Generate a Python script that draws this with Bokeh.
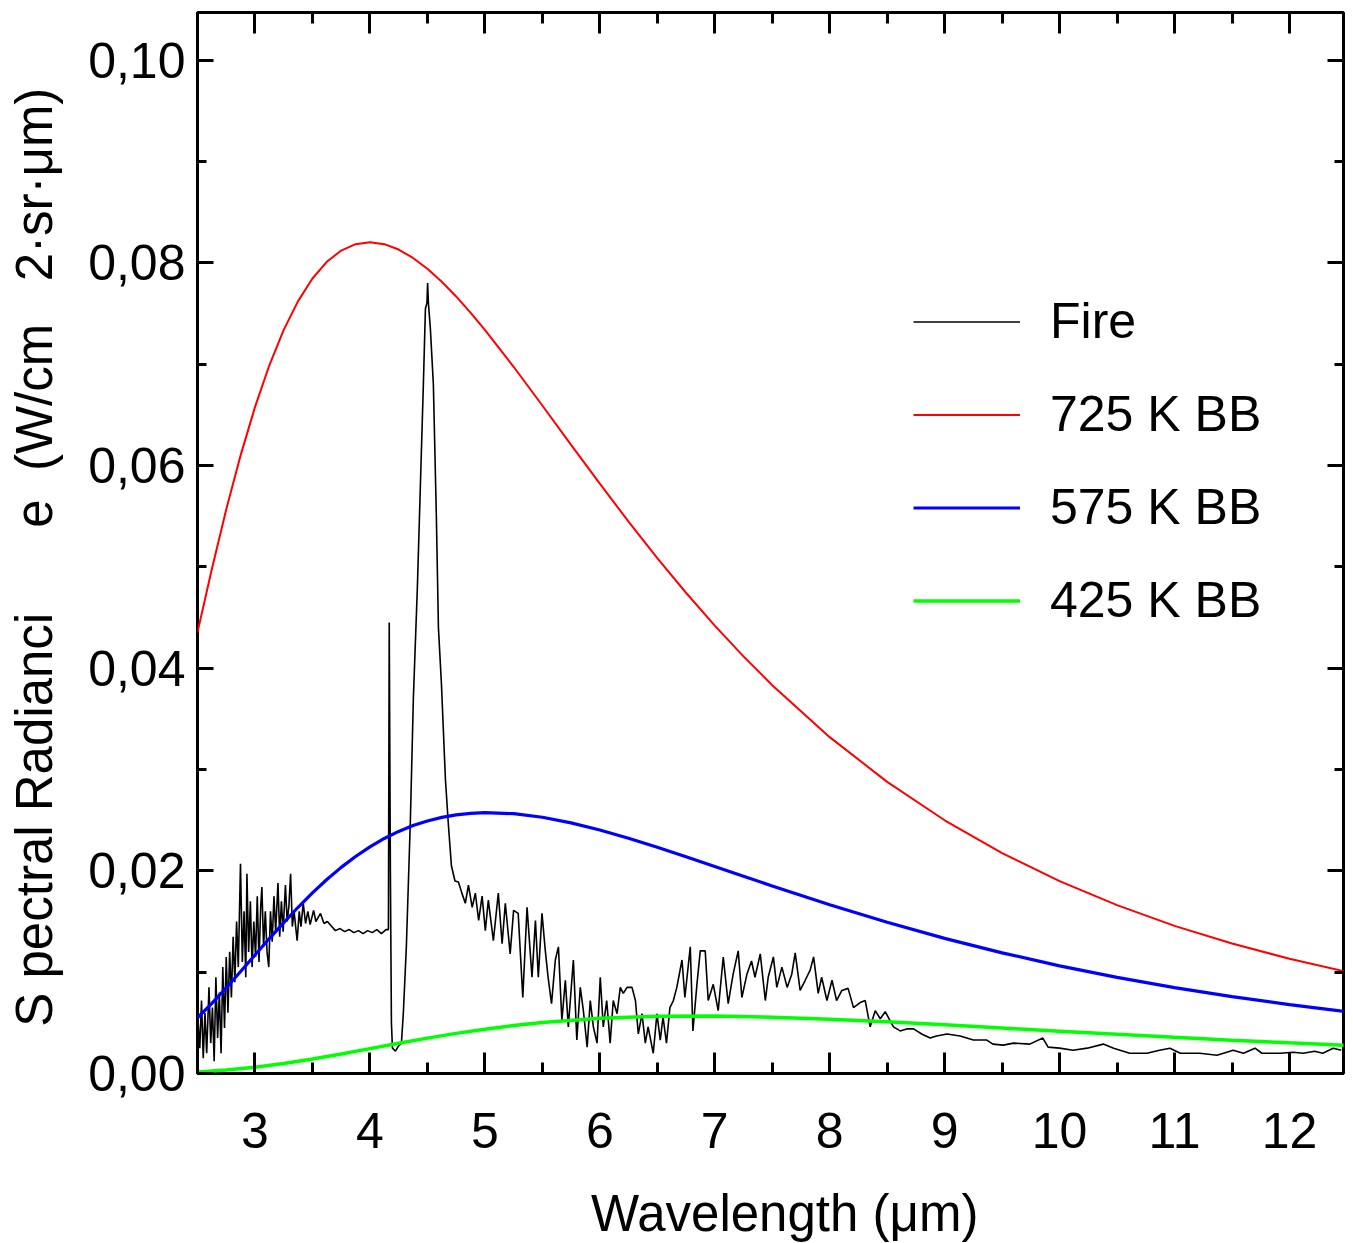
from bokeh.plotting import figure
from bokeh.models import (Range1d, LinearAxis, FixedTicker, CustomJSTickFormatter,
                          Legend, LegendItem)
from bokeh.embed import file_html
from bokeh.resources import INLINE

# ---- data ----
bb_wavelength_fine = [2.5, 2.625, 2.75, 2.875, 3.0, 3.125, 3.25, 3.375, 3.5, 3.625, 3.75, 3.875,
                      4.0, 4.125, 4.25, 4.375, 4.5, 4.625, 4.75, 4.875, 5.0, 5.25, 5.5, 5.75,
                      6.0, 6.25, 6.5, 6.75, 7.0, 7.25, 7.5, 8.0, 8.5, 9.0, 9.5, 10.0, 10.5,
                      11.0, 11.5, 12.0, 12.5]
bb_725 = [0.04354, 0.04979, 0.05565, 0.06100, 0.06576, 0.06989, 0.07338, 0.07622, 0.07845,
          0.08010, 0.08121, 0.08184, 0.08203, 0.08184, 0.08131, 0.08048, 0.07941, 0.07813,
          0.07668, 0.07509, 0.07338, 0.06974, 0.06592, 0.06204, 0.05820, 0.05446, 0.05086,
          0.04744, 0.04420, 0.04116, 0.03832, 0.03319, 0.02878, 0.02499, 0.02175, 0.01898,
          0.01661, 0.01457, 0.01283, 0.01132, 0.01003]
bb_575 = [0.005488, 0.006925, 0.008465, 0.010068, 0.011695, 0.013315, 0.014892, 0.016403,
          0.017825, 0.019142, 0.020342, 0.021418, 0.022369, 0.023192, 0.023889, 0.024464,
          0.024923, 0.025272, 0.025519, 0.025673, 0.025738, 0.025640, 0.025286, 0.024732,
          0.024030, 0.023216, 0.022327, 0.021391, 0.020433, 0.019468, 0.018508, 0.016655,
          0.014923, 0.013337, 0.011906, 0.010625, 0.009486, 0.008475, 0.007582, 0.006793,
          0.006096]
bb_wavelength = [2.5, 2.75, 3.0, 3.25, 3.5, 3.75, 4.0, 4.25, 4.5, 4.75, 5.0, 5.25, 5.5,
                 6.0, 6.5, 7.0, 7.5, 8.0, 8.5, 9.0, 9.5, 10.0, 10.5, 11.0, 11.5, 12.0, 12.5]
bb_425 = [0.000160, 0.000341, 0.000616, 0.000983, 0.001428, 0.001928, 0.002455, 0.002983,
          0.003490, 0.003958, 0.004376, 0.004735, 0.005033, 0.005448, 0.005647, 0.005669,
          0.005560, 0.005358, 0.005097, 0.004800, 0.004489, 0.004175, 0.003867, 0.003571,
          0.003292, 0.003030, 0.002787]

fire_wavelength = [
    2.50, 2.52, 2.535, 2.55, 2.565, 2.58, 2.60, 2.615, 2.63, 2.645, 2.66, 2.675, 2.69, 2.705,
    2.72, 2.735, 2.75, 2.765, 2.78, 2.795, 2.81, 2.825, 2.84, 2.855, 2.874, 2.89, 2.905, 2.92,
    2.93, 2.945, 2.96, 2.975, 2.99, 3.005, 3.02, 3.035, 3.05, 3.06, 3.075, 3.09, 3.105, 3.12,
    3.135, 3.15, 3.165, 3.18, 3.20, 3.215, 3.23, 3.245, 3.265, 3.28, 3.295, 3.31, 3.325, 3.34,
    3.367, 3.385, 3.40, 3.42, 3.44, 3.46, 3.48, 3.51, 3.53, 3.57, 3.60, 3.63, 3.66, 3.70, 3.74,
    3.78, 3.82, 3.86, 3.90, 3.94, 3.98, 4.02, 4.06, 4.10, 4.14, 4.161, 4.168, 4.178, 4.187,
    4.196, 4.222, 4.248, 4.274, 4.291, 4.317, 4.352, 4.378, 4.413, 4.439, 4.465, 4.483, 4.496,
    4.502, 4.509, 4.526, 4.552, 4.578, 4.596, 4.622, 4.657, 4.683, 4.709, 4.74, 4.77, 4.80,
    4.83, 4.857, 4.89, 4.917, 4.946, 4.976, 5.004, 5.03, 5.074, 5.117, 5.15, 5.178, 5.22, 5.25,
    5.29, 5.33, 5.367, 5.41, 5.44, 5.465, 5.497, 5.526, 5.55, 5.58, 5.613, 5.64, 5.67, 5.70,
    5.726, 5.77, 5.80, 5.83, 5.857, 5.89, 5.917, 5.944, 5.976, 6.004, 6.03, 6.06, 6.09, 6.117,
    6.15, 6.178, 6.204, 6.237, 6.28, 6.31, 6.335, 6.367, 6.396, 6.42, 6.465, 6.497, 6.526,
    6.55, 6.58, 6.61, 6.64, 6.67, 6.715, 6.74, 6.787, 6.81, 6.845, 6.874, 6.917, 6.943, 6.987,
    7.03, 7.074, 7.117, 7.16, 7.204, 7.236, 7.28, 7.32, 7.35, 7.396, 7.44, 7.465, 7.51, 7.54,
    7.584, 7.63, 7.67, 7.70, 7.743, 7.787, 7.83, 7.86, 7.90, 7.93, 7.976, 8.02, 8.06, 8.106,
    8.16, 8.207, 8.265, 8.309, 8.352, 8.396, 8.44, 8.483, 8.526, 8.555, 8.613, 8.67, 8.73,
    8.80, 8.874, 8.93, 9.02, 9.135, 9.25, 9.367, 9.42, 9.51, 9.60, 9.74, 9.854, 9.90, 10.0,
    10.117, 10.24, 10.38, 10.47, 10.61, 10.76, 10.87, 10.96, 11.05, 11.22, 11.37, 11.51, 11.60,
    11.70, 11.76, 11.92, 12.03, 12.12, 12.22, 12.29, 12.38, 12.45]
fire_radiance = [
    0.0060, 0.0025, 0.0072, 0.0015, 0.0060, 0.0020, 0.0085, 0.0030, 0.0065, 0.0012, 0.0095,
    0.0035, 0.0080, 0.0020, 0.0105, 0.0045, 0.0115, 0.0060, 0.0120, 0.0075, 0.0135, 0.0090,
    0.0150, 0.0105, 0.0207, 0.0110, 0.0160, 0.0095, 0.0197, 0.0120, 0.0170, 0.0105, 0.0150,
    0.0115, 0.0175, 0.0110, 0.0165, 0.0184, 0.0125, 0.0160, 0.0120, 0.0105, 0.0160, 0.0130,
    0.0175, 0.0140, 0.0188, 0.0135, 0.0170, 0.0140, 0.0186, 0.0150, 0.0165, 0.0197, 0.0145,
    0.0160, 0.0131, 0.0160, 0.0145, 0.0168, 0.0148, 0.0160, 0.0147, 0.0161, 0.0150, 0.0158,
    0.0148, 0.0150, 0.0146, 0.0141, 0.0143, 0.0140, 0.0142, 0.0139, 0.0141, 0.0138, 0.0141,
    0.0139, 0.0142, 0.0138, 0.0142, 0.0142, 0.0445, 0.0200, 0.0050, 0.0025, 0.0022, 0.0027,
    0.0030, 0.0060, 0.0125, 0.0250, 0.0370, 0.0480, 0.0580, 0.0680, 0.0755, 0.0760, 0.0780,
    0.0760, 0.0735, 0.0680, 0.0550, 0.0440, 0.0385, 0.0290, 0.0245, 0.0205, 0.0190, 0.0189,
    0.0178, 0.0168, 0.0186, 0.0164, 0.0178, 0.0151, 0.0175, 0.0141, 0.0171, 0.0131, 0.0178,
    0.0128, 0.0168, 0.0118, 0.0161, 0.0158, 0.0075, 0.0164, 0.0095, 0.0151, 0.0095, 0.0158,
    0.0121, 0.0095, 0.0069, 0.0112, 0.0125, 0.0052, 0.0092, 0.0046, 0.0112, 0.0033, 0.0085,
    0.0062, 0.0026, 0.0072, 0.0046, 0.0030, 0.0095, 0.0046, 0.0072, 0.0030, 0.0072, 0.0059,
    0.0085, 0.0079, 0.0085, 0.0085, 0.0072, 0.0039, 0.0059, 0.0030, 0.0046, 0.0020, 0.0059,
    0.0033, 0.0056, 0.0030, 0.0065, 0.0072, 0.0085, 0.0112, 0.0075, 0.0125, 0.0042, 0.0088,
    0.0121, 0.0121, 0.0072, 0.0088, 0.0062, 0.0115, 0.0069, 0.0098, 0.0121, 0.0075, 0.0098,
    0.0111, 0.0095, 0.0118, 0.0072, 0.0095, 0.0115, 0.0085, 0.0105, 0.0085, 0.0098, 0.0119,
    0.0082, 0.0092, 0.0102, 0.0115, 0.0079, 0.0095, 0.0072, 0.0092, 0.0072, 0.0082, 0.0084,
    0.0065, 0.0070, 0.0072, 0.0046, 0.0062, 0.0054, 0.0061, 0.0052, 0.0046, 0.0042, 0.0044,
    0.0044, 0.0039, 0.0035, 0.0037, 0.0039, 0.0037, 0.0033, 0.0033, 0.0029, 0.0028, 0.0030,
    0.0029, 0.0035, 0.0026, 0.0025, 0.0023, 0.0025, 0.0029, 0.0025, 0.0020, 0.0020, 0.0023,
    0.0025, 0.0020, 0.0020, 0.0018, 0.0023, 0.0020, 0.0025, 0.0020, 0.0020, 0.0021, 0.0020,
    0.0022, 0.0020, 0.0025, 0.0023]

x_major_ticks = [3, 4, 5, 6, 7, 8, 9, 10, 11, 12]
x_minor_ticks = [2.5, 3.5, 4.5, 5.5, 6.5, 7.5, 8.5, 9.5, 10.5, 11.5, 12.5]
y_major_ticks = [0.0, 0.02, 0.04, 0.06, 0.08, 0.10]
y_minor_ticks = [0.01, 0.03, 0.05, 0.07, 0.09]

series_labels = ["Fire", "725 K BB", "575 K BB", "425 K BB"]

FONT = "Liberation Sans"
NB = "\u00a0"

p = figure(frame_width=1146, frame_height=1061,
           x_range=Range1d(2.5, 12.47), y_range=Range1d(0, 0.1047),
           output_backend="svg", toolbar_location=None,
           x_axis_location=None, y_axis_location=None,
           min_border_left=197, min_border_top=12, min_border_bottom=170, min_border_right=7)
p.xgrid.visible = False
p.ygrid.visible = False
p.outline_line_color = "black"
p.outline_line_width = 3
p.background_fill_color = "white"
p.border_fill_color = "white"

xt = FixedTicker(ticks=x_major_ticks, minor_ticks=x_minor_ticks)
yt = FixedTicker(ticks=y_major_ticks, minor_ticks=y_minor_ticks)
blank = CustomJSTickFormatter(code="return ''")


def style_axis(ax, major_in, minor_in):
    ax.axis_line_color = None
    ax.major_tick_in = major_in
    ax.major_tick_out = 0
    ax.minor_tick_in = minor_in
    ax.minor_tick_out = 0
    ax.major_tick_line_width = 3
    ax.minor_tick_line_width = 3
    ax.major_tick_line_color = "black"
    ax.minor_tick_line_color = "black"


xb = LinearAxis(ticker=xt, axis_label=NB * 2 + "Wavelength (μm)")
style_axis(xb, 21, 11)
xb.major_label_text_font = FONT
xb.major_label_text_font_size = "50px"
xb.major_label_text_color = "black"
xb.major_label_standoff = 39
xb.axis_label_text_font = FONT
xb.axis_label_text_font_size = "51px"
xb.axis_label_text_font_style = "normal"
xb.axis_label_text_color = "black"
xb.axis_label_standoff = 34
p.add_layout(xb, "below")

xa = LinearAxis(ticker=xt, formatter=blank, major_label_standoff=0)
style_axis(xa, 21, 11)
p.add_layout(xa, "above")

ylabel = ("S pectral Radianci" + NB * 6 + "e" + NB * 2 + "(W/cm" + NB * 3 +
          "2·sr·μm)" + NB * 2)
yl = LinearAxis(ticker=yt,
                formatter=CustomJSTickFormatter(code="return tick.toFixed(2).replace('.', ',')"),
                axis_label=ylabel)
style_axis(yl, 16, 9)
yl.major_label_text_font = FONT
yl.major_label_text_font_size = "50px"
yl.major_label_text_color = "black"
yl.major_label_standoff = 12
yl.axis_label_text_font = FONT
yl.axis_label_text_font_size = "51px"
yl.axis_label_text_font_style = "normal"
yl.axis_label_text_color = "black"
yl.axis_label_standoff = 22
p.add_layout(yl, "left")

yr = LinearAxis(ticker=yt, formatter=blank, major_label_standoff=0)
style_axis(yr, 16, 9)
p.add_layout(yr, "right")

r_fire = p.line(fire_wavelength, fire_radiance, line_color="black", line_width=1.6)
r_725 = p.line(bb_wavelength_fine, bb_725, line_color="#ff0000", line_width=2)
r_575 = p.line(bb_wavelength_fine, bb_575, line_color="#0000ff", line_width=3.2)
r_425 = p.line(bb_wavelength, bb_425, line_color="#00ff00", line_width=3.5)

legend = Legend(items=[LegendItem(label=series_labels[0], renderers=[r_fire]),
                       LegendItem(label=series_labels[1], renderers=[r_725]),
                       LegendItem(label=series_labels[2], renderers=[r_575]),
                       LegendItem(label=series_labels[3], renderers=[r_425])],
                location=(716, 444))
legend.glyph_width = 107
legend.glyph_height = 55
legend.label_height = 55
legend.label_standoff = 30
legend.spacing = 35
legend.padding = 0
legend.margin = 0
legend.border_line_color = None
legend.background_fill_alpha = 0
legend.label_text_font = FONT
legend.label_text_font_size = "50px"
legend.label_text_color = "black"
p.add_layout(legend, "center")

open("out.html", "w").write(file_html(p, INLINE))
